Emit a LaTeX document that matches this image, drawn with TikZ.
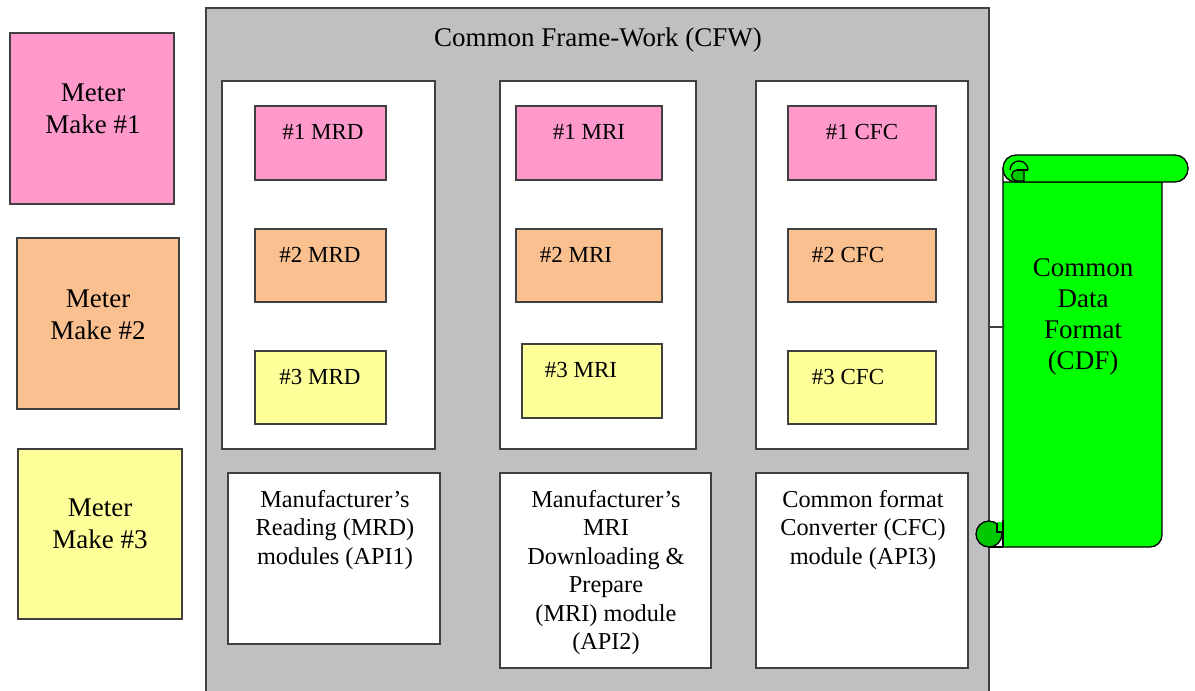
\documentclass[tikz,border=0pt]{standalone}
\usepackage{fontspec}
\setmainfont{Liberation Serif}
\definecolor{mpink}{HTML}{FF99CC}
\definecolor{mpeach}{HTML}{FAC090}
\definecolor{myellow}{HTML}{FFFF99}
\definecolor{mgray}{HTML}{C0C0C0}
\definecolor{mline}{HTML}{404040}
\definecolor{mgreen}{HTML}{00FF00}
\definecolor{mdgreen}{HTML}{00C800}
\tikzset{
  box/.style={draw=mline, line width=1.3pt, rectangle, inner sep=0pt},
  txt/.style={inner sep=0pt, anchor=north, align=center, font=\fontsize{23}{31}\selectfont},
  ltxt/.style={inner sep=0pt, anchor=north, align=center, font=\fontsize{27}{32}\selectfont},
  stxt/.style={inner sep=0pt, anchor=north, align=center, font=\fontsize{27}{31}\selectfont},
  btxt/.style={inner sep=0pt, anchor=north, align=center, font=\fontsize{24.3}{28.5}\selectfont},
  scr/.style={draw=black, line width=1.3pt},
}
\begin{document}
\begin{tikzpicture}[x=1pt,y=-1pt]
\useasboundingbox (0,0) rectangle (1195,691);
% meter makes
\node[box, fill=mpink, minimum width=164pt, minimum height=171pt] (m1) at (92,118.5) {};
\node[box, fill=mpeach, minimum width=162pt, minimum height=171pt] (m2) at (98,323.5) {};
\node[box, fill=myellow, minimum width=164pt, minimum height=170pt] (m3) at (100,534) {};
\node[ltxt] (m1t) at (93,84) {Meter\\Make \#1};
\node[ltxt] (m2t) at (98,290) {Meter\\Make \#2};
\node[ltxt] (m3t) at (100,499) {Meter\\Make \#3};
% CFW
\node[box, fill=mgray, minimum width=783pt, minimum height=690pt] (cfw) at (597.5,353) {};
\node[ltxt] (cfwt) at (598,28) {Common Frame-Work (CFW)};
% columns
\node[box, fill=white, minimum width=213pt, minimum height=368pt] (c1) at (328.5,265) {};
\node[box, fill=white, minimum width=196pt, minimum height=368pt] (c2) at (598,265) {};
\node[box, fill=white, minimum width=212pt, minimum height=368pt] (c3) at (862,265) {};
% MRD
\node[box, fill=mpink, minimum width=131pt, minimum height=74pt] (d1) at (320.5,143) {};
\node[box, fill=mpeach, minimum width=131pt, minimum height=73pt] (d2) at (320.5,265.5) {};
\node[box, fill=myellow, minimum width=131pt, minimum height=73pt] (d3) at (320.5,387.5) {};
\node[txt] (d1t) at (323,124) {\#1 MRD};
\node[txt] (d2t) at (320,247) {\#2 MRD};
\node[txt] (d3t) at (320,369) {\#3 MRD};
% MRI
\node[box, fill=mpink, minimum width=146pt, minimum height=74pt] (i1) at (589,143) {};
\node[box, fill=mpeach, minimum width=146pt, minimum height=73pt] (i2) at (589,265.5) {};
\node[box, fill=myellow, minimum width=140pt, minimum height=74pt] (i3) at (592,381) {};
\node[txt] (i1t) at (589,124) {\#1 MRI};
\node[txt] (i2t) at (576,247) {\#2 MRI};
\node[txt] (i3t) at (581,362) {\#3 MRI};
% CFC
\node[box, fill=mpink, minimum width=148pt, minimum height=74pt] (f1) at (862,143) {};
\node[box, fill=mpeach, minimum width=148pt, minimum height=73pt] (f2) at (862,265.5) {};
\node[box, fill=myellow, minimum width=148pt, minimum height=73pt] (f3) at (862,387.5) {};
\node[txt] (f1t) at (862,124) {\#1 CFC};
\node[txt] (f2t) at (848,247) {\#2 CFC};
\node[txt] (f3t) at (848,369) {\#3 CFC};
% bottom modules
\node[box, fill=white, minimum width=212pt, minimum height=171pt] (b1) at (334,558.5) {};
\node[box, fill=white, minimum width=211pt, minimum height=195pt] (b2) at (605.5,570.5) {};
\node[box, fill=white, minimum width=212pt, minimum height=195pt] (b3) at (862,570.5) {};
\node[btxt] (b1t) at (335,490) {Manufacturer’s\\Reading (MRD)\\modules (API1)};
\node[btxt] (b2t) at (606,490) {Manufacturer’s\\MRI\\Downloading \&\\Prepare\\(MRI) module\\(API2)};
\node[btxt] (b3t) at (863,490) {Common format\\Converter (CFC)\\module (API3)};
% scroll body
\coordinate (sl) at (1003,327);
\draw[scr, fill=mgreen]
  (1003,168) -- (1003,547) -- (1150,547) arc[start angle=90, end angle=0, radius=12]
  -- (1162,182) -- (1003,182) -- cycle;
\draw[scr] (989,547) -- (1003,547);
% top roll
\draw[scr, fill=mgreen, rounded corners=13pt]
  (1003,155) rectangle (1188,182);
\draw[scr] (1010,170) arc[start angle=180, end angle=360, radius=9];
\draw[scr, fill=mdgreen]
  (1024,170) -- (1017,170) arc[start angle=270, end angle=90, radius=5.5] -- (1024,181) -- cycle;
\draw[scr] (1017,170) -- (1028,170);
% bottom curl
\draw[scr, fill=mdgreen] (989,534) circle[radius=13];
\fill[mgreen] (997,522) rectangle (1003,532);
\draw[scr] (997,523) -- (997,532) -- (1003,532);
\draw[scr] (1003,520) -- (1003,547);
\node[stxt] (cdf) at (1083,258) {Common\\Data\\Format\\(CDF)};
\draw[draw=mline, line width=1.3pt] (cfw.east |- sl) -- (sl);
\end{tikzpicture}
\end{document}
